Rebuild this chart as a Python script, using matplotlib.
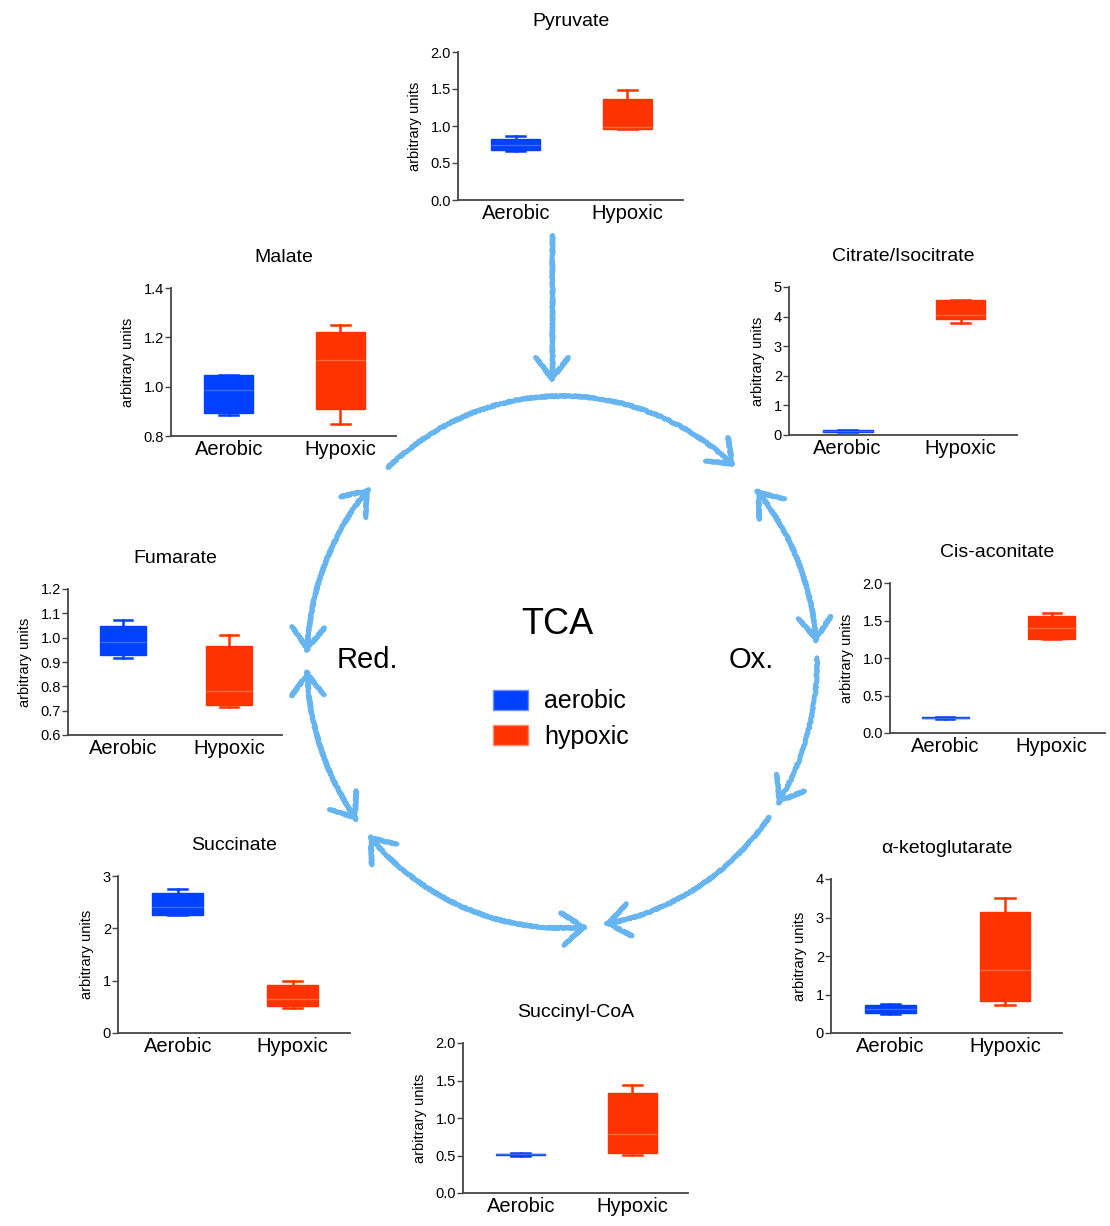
import numpy as np
import matplotlib
matplotlib.use('Agg')
import matplotlib.pyplot as plt
from matplotlib.patches import FancyArrowPatch, Patch
from matplotlib.path import Path
from matplotlib.ticker import FormatStrFormatter

plt.rcParams['font.family'] = ['Liberation Sans', 'DejaVu Sans']

# ---- data: box stats as [whisker low, q1, median, q3, whisker high] ----
groups = ['Aerobic', 'Hypoxic']

pyruvate_aer = [0.66, 0.67, 0.75, 0.83, 0.87]
pyruvate_hyp = [0.96, 0.96, 0.98, 1.37, 1.49]
malate_aer = [0.885, 0.894, 0.986, 1.046, 1.046]
malate_hyp = [0.847, 0.908, 1.11, 1.222, 1.252]
citrate_aer = [0.10, 0.11, 0.14, 0.17, 0.18]
citrate_hyp = [3.77, 3.91, 4.05, 4.55, 4.55]
fumarate_aer = [0.916, 0.929, 0.984, 1.049, 1.071]
fumarate_hyp = [0.714, 0.724, 0.782, 0.967, 1.009]
cisacon_aer = [0.19, 0.195, 0.205, 0.215, 0.22]
cisacon_hyp = [1.25, 1.26, 1.40, 1.56, 1.60]
succinate_aer = [2.25, 2.25, 2.40, 2.67, 2.75]
succinate_hyp = [0.48, 0.51, 0.65, 0.91, 0.99]
akg_aer = [0.50, 0.52, 0.62, 0.73, 0.75]
akg_hyp = [0.72, 0.84, 1.64, 3.13, 3.50]
succoa_aer = [0.50, 0.505, 0.515, 0.525, 0.53]
succoa_hyp = [0.51, 0.54, 0.79, 1.34, 1.44]

BLUE = '#0040ff'
RED = '#ff3300'
ARROW = '#66b5f0'

W, H = 1110, 1226
fig = plt.figure(figsize=(W / 100, H / 100), dpi=100)

# background axes in pixel coordinates for the cycle diagram
bg = fig.add_axes([0, 0, 1, 1])
bg.set_xlim(0, W)
bg.set_ylim(H, 0)
bg.axis('off')

cx, cy, rx, ry = 562, 662, 255, 266
arcs = [(133.0, 47.2, '->'), (40.5, 4.1, '<->'), (0.9, -32.4, '->'),
        (-35.7, -80.5, '->'), (220.5, 275.8, '<->'), (181.7, 216.7, '<->'),
        (139.0, 178.0, '<->')]


def add_arrow(verts, style):
    p = FancyArrowPatch(path=Path(verts), arrowstyle=style,
                        mutation_scale=28, color=ARROW, lw=3.6,
                        capstyle='round', joinstyle='round')
    p.set_arrowstyle(style, head_length=0.55, head_width=0.42)
    p.set_sketch_params(scale=0.7, length=1.5, randomness=2.0)
    bg.add_patch(p)


for t0, t1, style in arcs:
    t = np.radians(np.linspace(t0, t1, 80))
    add_arrow(np.column_stack([cx + rx * np.cos(t), cy - ry * np.sin(t)]), style)
add_arrow(np.array([[552, 235], [552, 383]]), '->')

bg.text(557, 625, 'TCA', fontsize=26, ha='center', va='center')
bg.text(337, 660, 'Red.', fontsize=21, ha='left', va='center')
bg.text(729, 660, 'Ox.', fontsize=21, ha='left', va='center')
bg.legend(handles=[Patch(facecolor=BLUE, edgecolor='#6f8fff', label='aerobic'),
                   Patch(facecolor=RED, edgecolor='#ff8a6f', label='hypoxic')],
          loc='center', bbox_to_anchor=(561, 719), bbox_transform=bg.transData,
          frameon=False, fontsize=18, handlelength=1.4, handleheight=0.85,
          handletextpad=0.65, labelspacing=0.45, borderpad=0)

# ---- box plot panels ----
panels = [
    ('Pyruvate', pyruvate_aer, pyruvate_hyp, 0, 2.0, np.arange(0, 2.01, 0.5), '%.1f'),
    ('Malate', malate_aer, malate_hyp, 0.8, 1.4, [0.8, 1.0, 1.2, 1.4], '%.1f'),
    ('Citrate/Isocitrate', citrate_aer, citrate_hyp, 0, 5, range(6), '%d'),
    ('Fumarate', fumarate_aer, fumarate_hyp, 0.6, 1.2, np.arange(0.6, 1.21, 0.1), '%.1f'),
    ('Cis-aconitate', cisacon_aer, cisacon_hyp, 0, 2.0, np.arange(0, 2.01, 0.5), '%.1f'),
    ('Succinate', succinate_aer, succinate_hyp, 0, 3, range(4), '%d'),
    ('α-ketoglutarate', akg_aer, akg_hyp, 0, 4, range(5), '%d'),
    ('Succinyl-CoA', succoa_aer, succoa_hyp, 0, 2.0, np.arange(0, 2.01, 0.5), '%.1f'),
]
# panel frames in pixels: left, right, top, bottom
frames = [(458, 683, 52, 200), (171, 396, 288, 436), (789, 1017, 287, 435),
          (68, 282, 589, 735), (890, 1105, 583, 733), (118, 350, 876, 1033),
          (831, 1062, 879, 1033), (463, 688, 1043, 1193)]

for (title, aer, hyp, y0, y1, ticks, fmt), (L, R, T, B) in zip(panels, frames):
    ax = fig.add_axes([L / W, 1 - B / H, (R - L) / W, (B - T) / H])
    stats = [dict(whislo=v[0], q1=v[1], med=v[2], q3=v[3], whishi=v[4], label=g)
             for v, g in zip([aer, hyp], groups)]
    res = ax.bxp(stats, positions=[1, 2], widths=0.44, patch_artist=True,
                 showfliers=False, capwidths=0.17)
    for i, (c, mc) in enumerate([(BLUE, '#3d6dff'), (RED, '#ff6a40')]):
        res['boxes'][i].set(facecolor=c, edgecolor=c, linewidth=1.0)
        res['medians'][i].set(color=mc, linewidth=1.0)
        for a in res['whiskers'][2 * i:2 * i + 2] + res['caps'][2 * i:2 * i + 2]:
            a.set(color=c, linewidth=1.8)
    ax.set_xlim(0.48, 2.5)
    ax.set_ylim(y0, y1)
    ax.set_yticks(list(ticks))
    ax.yaxis.set_major_formatter(FormatStrFormatter(fmt))
    ax.set_xticks([1, 2])
    ax.set_xticklabels(groups)
    for s in ['top', 'right']:
        ax.spines[s].set_visible(False)
    for s in ['left', 'bottom']:
        ax.spines[s].set_color('#444444')
        ax.spines[s].set_linewidth(1.3)
    ax.tick_params(axis='y', length=4, width=1, color='#444444', labelsize=10.5, pad=1)
    ax.tick_params(axis='x', length=0, labelsize=14.5, pad=3)
    ax.set_ylabel('arbitrary units', fontsize=10.5, labelpad=6)
    ax.set_title(title, fontsize=14, pad=19)
    ax.patch.set_alpha(0)

fig.savefig('out.png', dpi=100)
